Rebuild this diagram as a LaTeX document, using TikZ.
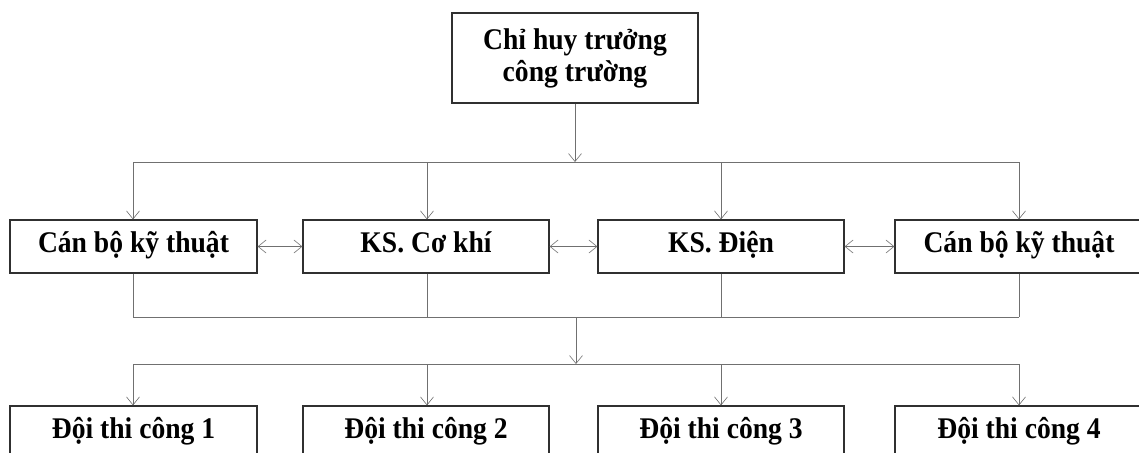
\documentclass[tikz,border=0pt]{standalone}
\usepackage{fontspec}
\setmainfont{Liberation Serif}[FakeStretch=0.92]
\usetikzlibrary{arrows.meta}
\definecolor{boxline}{HTML}{303030}
\definecolor{conn}{HTML}{707070}
\begin{document}
\begin{tikzpicture}[x=1pt,y=-1pt,
  box/.style={draw=boxline,line width=1.2pt,inner sep=0pt,minimum width=246pt,minimum height=53pt,
    font=\fontsize{30}{32}\selectfont\bfseries,align=center},
  one/.style={text height=21pt,text depth=9pt},
  link/.style={draw=conn,line width=0.8pt},
  arr/.style={link,-{Straight Barb[length=8pt,width=13pt,line width=0.6pt]}},
  darr/.style={link,{Straight Barb[length=8pt,width=13pt,line width=0.6pt]}-{Straight Barb[length=8pt,width=13pt,line width=0.6pt]}}]
\clip (0,0) rectangle (1139,452);
\fill[white] (0,0) rectangle (1139,452);
% top
\node[box,minimum height=90pt] (top) at (575,58) {Chỉ huy trưởng\\công trường};
% middle row
\node[box,one,minimum width=247pt] (m1) at (133.5,246.5) {Cán bộ kỹ thuật};
\node[box,one] (m2) at (426,246.5) {KS. Cơ khí};
\node[box,one] (m3) at (721,246.5) {KS. Điện};
\node[box,one,minimum width=248pt] (m4) at (1019,246.5) {Cán bộ kỹ thuật};
% bottom row
\node[box,one,minimum width=247pt] (b1) at (133.5,432.5) {Đội thi công 1};
\node[box,one] (b2) at (426,432.5) {Đội thi công 2};
\node[box,one] (b3) at (721,432.5) {Đội thi công 3};
\node[box,one,minimum width=248pt] (b4) at (1019,432.5) {Đội thi công 4};
% bus coordinates
\coordinate (h0) at (575,162);
\coordinate (h1) at (133,162);
\coordinate (h2) at (427,162);
\coordinate (h3) at (721,162);
\coordinate (h4) at (1019,162);
\coordinate (j1) at (133,317);
\coordinate (j2) at (427,317);
\coordinate (j3) at (721,317);
\coordinate (j4) at (1019,317);
\coordinate (j0) at (576,317);
\coordinate (k0) at (576,364);
\coordinate (k1) at (133,364);
\coordinate (k2) at (427,364);
\coordinate (k3) at (721,364);
\coordinate (k4) at (1019,364);
% top to bus
\draw[arr] (top.south) -- (h0);
\draw[link] (h1) -- (h4);
\draw[arr] (h1) -- (h1 |- m1.north);
\draw[arr] (h2) -- (h2 |- m2.north);
\draw[arr] (h3) -- (h3 |- m3.north);
\draw[arr] (h4) -- (h4 |- m4.north);
% horizontal links
\draw[darr] (m1.east) -- (m2.west);
\draw[darr] (m2.east) -- (m3.west);
\draw[darr] (m3.east) -- (m4.west);
% middle to join
\draw[link] (j1 |- m1.south) -- (j1);
\draw[link] (j2 |- m2.south) -- (j2);
\draw[link] (j3 |- m3.south) -- (j3);
\draw[link] (j4 |- m4.south) -- (j4);
\draw[link] (j1) -- (j4);
\draw[arr] (j0) -- (k0);
\draw[link] (k1) -- (k4);
\draw[arr] (k1) -- (k1 |- b1.north);
\draw[arr] (k2) -- (k2 |- b2.north);
\draw[arr] (k3) -- (k3 |- b3.north);
\draw[arr] (k4) -- (k4 |- b4.north);
\end{tikzpicture}
\end{document}
